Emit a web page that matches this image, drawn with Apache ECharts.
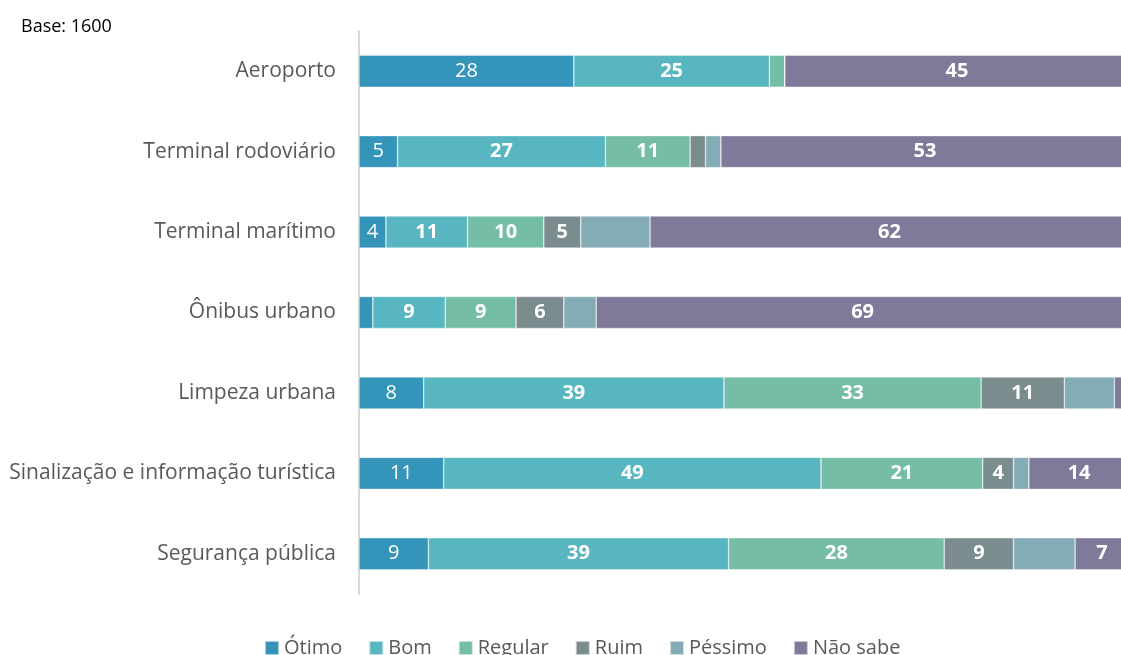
<!DOCTYPE html>
<html>
<head>
<meta charset="utf-8">
<script src="https://cdn.jsdelivr.net/npm/echarts@6/dist/echarts.min.js"></script>
<style>
html,body{margin:0;padding:0;background:#fff;}
#c{width:1121px;height:655px;}
</style>
</head>
<body>
<div id="c"></div>
<script>
const categories = ["Aeroporto","Terminal rodoviário","Terminal marítimo","Ônibus urbano","Limpeza urbana","Sinalização e informação turística","Segurança pública"];
const seriesNames = ["Ótimo","Bom","Regular","Ruim","Péssimo","Não sabe"];
// estimated shares (%), labels on the chart show the rounded value
const otimo   = [27.9, 5, 3.5, 1.8, 8.4, 11, 9];
const bom     = [25.4, 27, 10.6, 9.4, 39, 49, 39];
const regular = [2, 11, 9.9, 9.2, 33.4, 21, 28];
const ruim    = [0, 2, 4.8, 6.2, 10.8, 4, 9];
const pessimo = [0, 2, 9, 4.2, 6.5, 2, 8];
const naoSabe = [44.7, 53, 62.2, 69.2, 1.9, 14, 7];
// which segments carry a value label in the reference
const showLabel = [
  [true,true,true,false,true,true,true],
  [true,true,true,true,true,true,true],
  [false,true,true,true,true,true,true],
  [false,false,true,true,true,true,true],
  [false,false,false,false,false,false,false],
  [true,true,true,true,false,true,true]
];
const colors = ["#3594BA","#58B6C0","#75BDA7","#7A8C8E","#84ACB6","#7F7A9A"];
const allData = [otimo,bom,regular,ruim,pessimo,naoSabe];

const FONT = "Open Sans";
const chart = echarts.init(document.getElementById('c'));
const series = seriesNames.map((name,i)=>({
  name: name,
  type: 'bar',
  stack: 'total',
  barWidth: 32,
  itemStyle: {color: colors[i], borderColor: 'rgba(255,255,255,0.6)', borderWidth: 0.6},
  label: {
    show: true,
    position: 'inside',
    color: '#fff',
    fontFamily: FONT,
    fontSize: 20,
    fontWeight: i === 0 ? 'normal' : 'bold',
    formatter: p => showLabel[i][p.dataIndex] && p.value > 0 ? String(Math.round(p.value)) : ''
  },
  data: allData[i]
}));

chart.setOption({
  animation: false,
  color: colors,
  textStyle: {fontFamily: FONT},
  title: {
    text: 'Base: 1600', left: 16, top: 13,
    textStyle: {fontFamily: FONT, fontSize: 18, fontWeight: 'normal', color: '#000'}
  },
  legend: {
    data: seriesNames,
    left: 264, bottom: -3, padding: 0,
    itemWidth: 14, itemHeight: 14, itemGap: 26,
    icon: 'rect',
    textStyle: {fontFamily: FONT, fontSize: 20, color: '#595959'}
  },
  grid: {left: 359, width: 770, top: 31, bottom: 61, outerBoundsMode: 'none', containLabel: false},
  xAxis: {
    type: 'value', min: 0, max: 100, show: false
  },
  yAxis: {
    type: 'category',
    data: categories,
    inverse: true,
    axisLine: {show: true, lineStyle: {color: '#D9D9D9', width: 2}},
    axisTick: {show: false},
    axisLabel: {fontFamily: FONT, fontSize: 21, color: '#595959', margin: 23}
  },
  series: series
});
</script>
</body>
</html>
